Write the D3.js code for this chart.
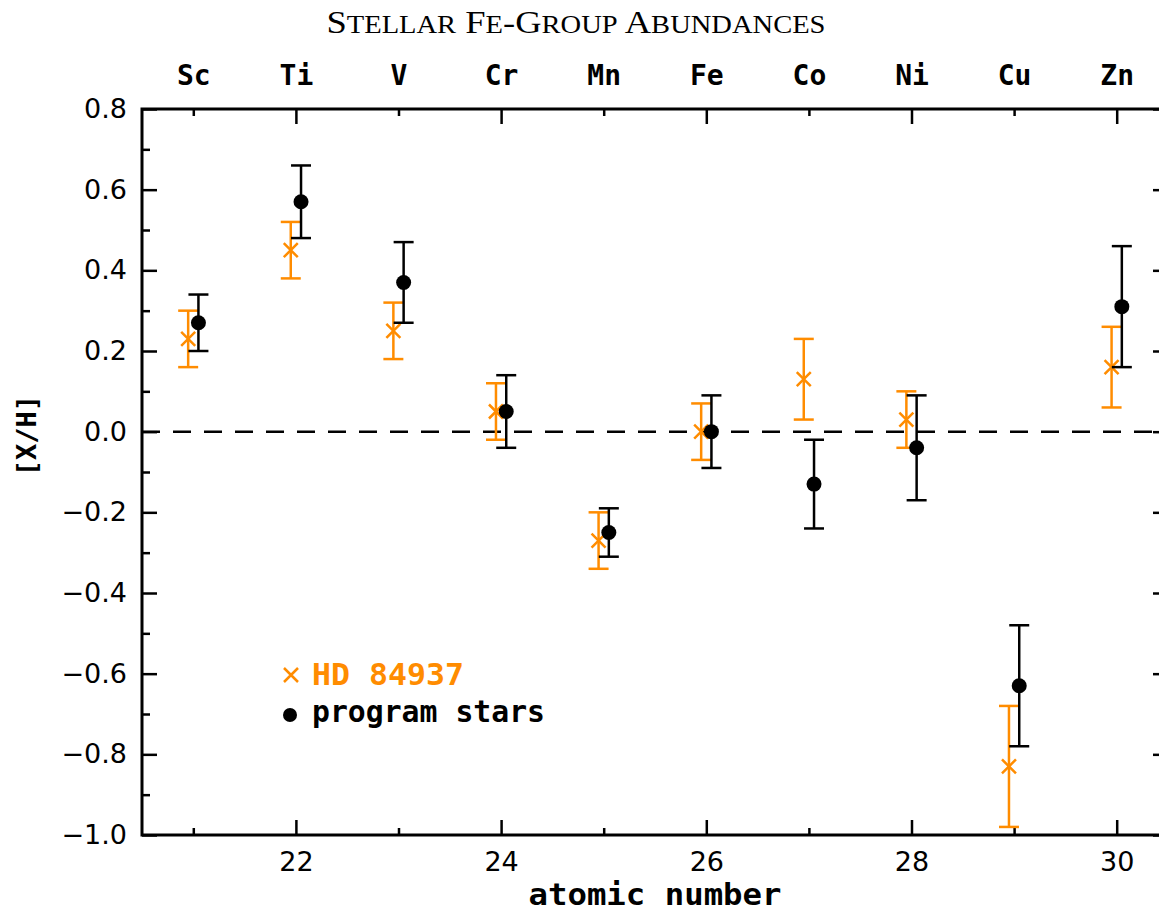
<!DOCTYPE html>
<html>
<head>
<meta charset="utf-8">
<script src="https://cdn.jsdelivr.net/npm/d3@7"></script>
<style>
  html, body { margin: 0; padding: 0; background: #fff; }
  svg { display: block; }
</style>
</head>
<body>
<svg id="chart" width="1159" height="915"></svg>
<script>
// ---------- data ----------
const elements = ["Sc", "Ti", "V", "Cr", "Mn", "Fe", "Co", "Ni", "Cu", "Zn"];
const atomicNumbers = [21, 22, 23, 24, 25, 26, 27, 28, 29, 30];
const hdValues = [0.23, 0.45, 0.25, 0.05, -0.27, 0.00, 0.13, 0.03, -0.83, 0.16];
const hdErrors = [0.07, 0.07, 0.07, 0.07, 0.07, 0.07, 0.10, 0.07, 0.15, 0.10];
const progValues = [0.27, 0.57, 0.37, 0.05, -0.25, 0.00, -0.13, -0.04, -0.63, 0.31];
const progErrors = [0.07, 0.09, 0.10, 0.09, 0.06, 0.09, 0.11, 0.13, 0.15, 0.15];
const xMajorTicks = [22, 24, 26, 28, 30];
const xMinorTicks = [21, 23, 25, 27, 29];
const yMajorTicks = [-1.0, -0.8, -0.6, -0.4, -0.2, 0.0, 0.2, 0.4, 0.6, 0.8];
const yMinorTicks = [-0.9, -0.7, -0.5, -0.3, -0.1, 0.1, 0.3, 0.5, 0.7];
const legendLabels = ["HD 84937", "program stars"];
const titleText = "Stellar Fe-Group Abundances";
const xTitle = "atomic number";
const yTitle = "[X/H]";

// ---------- layout ----------
const ORANGE = "#ff8c00";
const monoFont = "'DejaVu Sans Mono', monospace";
const numFont = "'DejaVu Sans', sans-serif";
const pLeft = 142, pRight = 1168, pTop = 109, pBottom = 835;
const offset = 0.05;

const svg = d3.select("#chart");
const x = d3.scaleLinear().domain([20.5, 30.5]).range([pLeft, pRight]);
const y = d3.scaleLinear().domain([-1.0, 0.8]).range([pBottom, pTop]);

const fmtY = d => (d < 0 ? "\u2212" : "") + Math.abs(d).toFixed(1);

function styleAxis(g) {
  g.select(".domain").remove();
  g.selectAll(".tick line").attr("stroke", "#000").attr("stroke-width", 2.5);
}

// bottom axis
svg.append("g").attr("transform", `translate(0,${pBottom})`)
  .call(d3.axisBottom(x).tickValues(xMajorTicks).tickSize(-15).tickPadding(17).tickFormat(d3.format("d")))
  .call(styleAxis)
  .selectAll("text").attr("font-family", numFont).attr("font-size", 27).attr("fill", "#000");
svg.append("g").attr("transform", `translate(0,${pBottom})`)
  .call(d3.axisBottom(x).tickValues(xMinorTicks).tickSize(-7).tickFormat(""))
  .call(styleAxis);

// top axis with element labels
svg.append("g").attr("transform", `translate(0,${pTop})`)
  .call(d3.axisTop(x).tickValues(xMajorTicks).tickSize(-15).tickPadding(24).tickFormat(d => elements[atomicNumbers.indexOf(d)]))
  .call(styleAxis)
  .selectAll("text").attr("font-family", monoFont).attr("font-weight", "bold").attr("font-size", 28).attr("fill", "#000");
svg.append("g").attr("transform", `translate(0,${pTop})`)
  .call(d3.axisTop(x).tickValues(xMinorTicks).tickSize(-7).tickPadding(24).tickFormat(d => elements[atomicNumbers.indexOf(d)]))
  .call(styleAxis)
  .selectAll("text").attr("font-family", monoFont).attr("font-weight", "bold").attr("font-size", 28).attr("fill", "#000");

// left axis
svg.append("g").attr("transform", `translate(${pLeft},0)`)
  .call(d3.axisLeft(y).tickValues(yMajorTicks).tickSize(-15).tickPadding(15).tickFormat(fmtY))
  .call(styleAxis)
  .selectAll("text").attr("font-family", numFont).attr("font-size", 27).attr("fill", "#000");
svg.append("g").attr("transform", `translate(${pLeft},0)`)
  .call(d3.axisLeft(y).tickValues(yMinorTicks).tickSize(-8).tickFormat(""))
  .call(styleAxis);

// right axis
svg.append("g").attr("transform", `translate(${pRight},0)`)
  .call(d3.axisRight(y).tickValues(yMajorTicks).tickSize(-15).tickFormat(""))
  .call(styleAxis);
svg.append("g").attr("transform", `translate(${pRight},0)`)
  .call(d3.axisRight(y).tickValues(yMinorTicks).tickSize(-8).tickFormat(""))
  .call(styleAxis);

// frame
svg.append("rect").attr("x", pLeft).attr("y", pTop)
  .attr("width", pRight - pLeft).attr("height", pBottom - pTop)
  .attr("fill", "none").attr("stroke", "#000").attr("stroke-width", 3);

// zero line
svg.append("line").attr("x1", pLeft).attr("x2", pRight)
  .attr("y1", y(0)).attr("y2", y(0))
  .attr("stroke", "#000").attr("stroke-width", 2.5).attr("stroke-dasharray", "18,13");

// error bars + markers
function drawSeries(vals, errs, dx, color, kind) {
  const g = svg.append("g");
  const capW = 10;
  atomicNumbers.forEach((z, i) => {
    const cx = x(z + dx);
    const y1 = y(vals[i] - errs[i]), y2 = y(vals[i] + errs[i]);
    g.append("line").attr("x1", cx).attr("x2", cx).attr("y1", y1).attr("y2", y2)
      .attr("stroke", color).attr("stroke-width", 2.5);
    [y1, y2].forEach(yy => g.append("line").attr("x1", cx - capW).attr("x2", cx + capW)
      .attr("y1", yy).attr("y2", yy).attr("stroke", color).attr("stroke-width", 2.5));
    const cy = y(vals[i]);
    if (kind === "cross") {
      g.append("path").attr("d", `M${cx-7},${cy-7}L${cx+7},${cy+7}M${cx-7},${cy+7}L${cx+7},${cy-7}`)
        .attr("stroke", color).attr("stroke-width", 2.5).attr("fill", "none");
    } else {
      g.append("circle").attr("cx", cx).attr("cy", cy).attr("r", 7.5).attr("fill", color);
    }
  });
}
drawSeries(hdValues, hdErrors, -offset, ORANGE, "cross");
drawSeries(progValues, progErrors, offset, "#000", "dot");

// legend
const lg = svg.append("g");
lg.append("path").attr("d", "M284,668L298,682M284,682L298,668")
  .attr("stroke", ORANGE).attr("stroke-width", 2.5);
lg.append("text").attr("x", 312).attr("y", 685).text(legendLabels[0])
  .attr("font-family", monoFont).attr("font-weight", "bold").attr("font-size", 30).attr("fill", ORANGE)
  .attr("textLength", 152).attr("lengthAdjust", "spacingAndGlyphs");
lg.append("circle").attr("cx", 290).attr("cy", 715).attr("r", 7).attr("fill", "#000");
lg.append("text").attr("x", 312).attr("y", 722).text(legendLabels[1])
  .attr("font-family", monoFont).attr("font-weight", "bold").attr("font-size", 30).attr("fill", "#000")
  .attr("textLength", 233).attr("lengthAdjust", "spacingAndGlyphs");

// title in true small caps (capitals full size, lower-case as smaller capitals)
const title = svg.append("text").attr("x", 576).attr("y", 33).attr("text-anchor", "middle")
  .attr("font-family", "'Liberation Serif', 'DejaVu Serif', serif").attr("fill", "#000")
  .attr("textLength", 499).attr("lengthAdjust", "spacingAndGlyphs");
titleText.split("").forEach(ch => {
  const isLower = ch !== ch.toUpperCase();
  title.append("tspan").attr("font-size", isLower ? 25 : 32).text(isLower ? ch.toUpperCase() : ch);
});

svg.append("text").attr("x", (pLeft + pRight) / 2).attr("y", 905).attr("text-anchor", "middle")
  .attr("font-family", monoFont).attr("font-weight", "bold").attr("font-size", 31)
  .attr("textLength", 253).attr("lengthAdjust", "spacingAndGlyphs").text(xTitle);
svg.append("text").attr("transform", `translate(36,${y(-0.01)}) rotate(-90)`).attr("text-anchor", "middle")
  .attr("font-family", monoFont).attr("font-weight", "bold").attr("font-size", 27).text(yTitle);
</script>
</body>
</html>
